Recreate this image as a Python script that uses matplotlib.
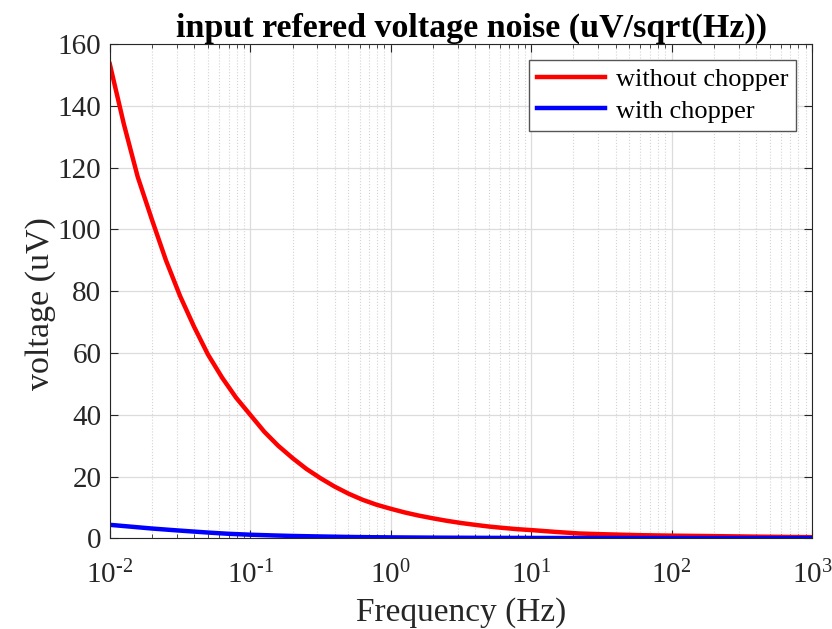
#!/usr/bin/env python3

import numpy as np
import matplotlib.pyplot as plt

# values
freq = [0.01, 0.0126, 0.0158, 0.02, 0.0251, 0.0316, 0.0398, 0.05, 0.0631, 0.0794,
        0.1, 0.126, 0.158, 0.2, 0.251, 0.316, 0.398, 0.5, 0.631, 0.794,
        1.0, 1.26, 1.58, 2.0, 2.51, 3.16, 3.98, 5.0, 6.31, 7.94,
        10, 15, 22, 30, 40, 60, 100, 200, 400, 700, 1000]
noise_no_chop = [153.5, 134, 117, 103, 90, 78.5, 68.5, 59.5, 52, 45.5,
                 40, 34.5, 30, 26, 22.5, 19.5, 16.8, 14.5, 12.5, 10.9,
                 9.6, 8.4, 7.4, 6.5, 5.7, 5.0, 4.4, 3.85, 3.4, 3.0,
                 2.7, 2.1, 1.6, 1.4, 1.25, 1.05, 0.9, 0.75, 0.58, 0.47, 0.4]

freq_chop = [0.01, 0.015, 0.02, 0.03, 0.05, 0.07, 0.1, 0.15, 0.2, 0.3,
             0.5, 0.7, 1, 2, 5, 10, 100, 1000]
noise_chop = [4.4, 3.7, 3.2, 2.6, 1.9, 1.5, 1.2, 0.95, 0.8, 0.65,
              0.48, 0.4, 0.34, 0.25, 0.18, 0.15, 0.11, 0.1]

x_exponents = [-2, -1, 0, 1, 2, 3]
y_ticks = [0, 20, 40, 60, 80, 100, 120, 140, 160]

plt.rcParams['font.family'] = ['Liberation Serif', 'DejaVu Serif']
plt.rcParams['mathtext.fontset'] = 'custom'
plt.rcParams['mathtext.rm'] = 'Liberation Serif'
plt.rcParams['mathtext.it'] = 'Liberation Serif:italic'

fig = plt.figure(figsize=(8.32, 6.29), dpi=100)
ax = fig.add_axes([0.132, 0.144, 0.844, 0.786])

ax.semilogx(freq, noise_no_chop, color='#ff0000', linewidth=3.2, label='without chopper')
ax.semilogx(freq_chop, noise_chop, color='#0000ff', linewidth=3.2, label='with chopper')

ax.set_xlim(1e-2, 1e3)
ax.set_ylim(0, 160)
ax.set_yticks(y_ticks)
ax.set_xticks([10.0 ** e for e in x_exponents])
# MATLAB style exponents with a short hyphen
ax.set_xticklabels([r'$10^{\text{%d}}$' % e for e in x_exponents])

ax.grid(True, which='major', color='#dcdcdc', linestyle='-', linewidth=0.9)
ax.grid(True, which='minor', axis='x', color='#d4d4d4', linestyle=':', linewidth=0.8)
ax.set_axisbelow(True)

ax.tick_params(which='both', direction='in', top=True, right=True,
               colors='#262626', labelsize=21)
ax.tick_params(which='major', length=6, width=0.8)
ax.tick_params(which='minor', length=3, width=0.6)
ax.tick_params(axis='x', pad=16)
ax.tick_params(axis='y', pad=6)
for s in ax.spines.values():
    s.set_color('#262626')
    s.set_linewidth(0.8)

ax.set_xlabel('Frequency (Hz)', fontsize=24, color='#262626', labelpad=6)
ax.set_ylabel('voltage (uV)', fontsize=24.5, color='#262626', labelpad=1)
ax.yaxis.label.set_y(0.476)
ax.set_title('input refered voltage noise (uV/sqrt(Hz))', fontsize=24.5,
             fontweight='bold', color='black', pad=4, x=0.515)

leg = ax.legend(loc='upper right', fontsize=19, frameon=True, fancybox=False,
                edgecolor='#555555', framealpha=1, handlelength=2.6,
                handletextpad=0.4, borderpad=0.3, labelspacing=0.3,
                borderaxespad=0.6)
leg.get_frame().set_linewidth(1.0)

fig.savefig('out.png', dpi=100)
